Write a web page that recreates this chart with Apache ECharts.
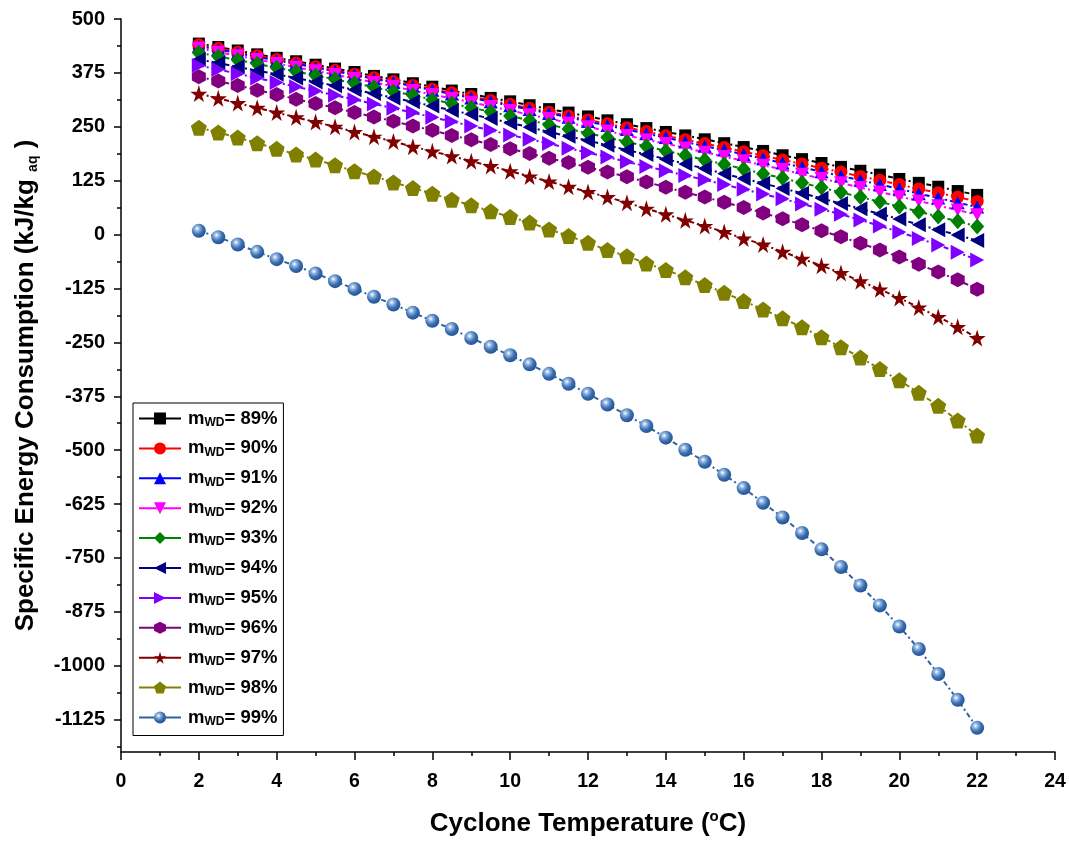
<!DOCTYPE html>
<html>
<head>
<meta charset="utf-8">
<script src="https://cdn.jsdelivr.net/npm/echarts@6/dist/echarts.min.js"></script>
<style>
html, body { margin: 0; padding: 0; background: #fff; }
#chart { width: 1069px; height: 841px; }
</style>
</head>
<body>
<div id="chart"></div>
<script>
// cyclone temperature (°C)
const temps = [2, 2.5, 3, 3.5, 4, 4.5, 5, 5.5, 6, 6.5, 7, 7.5, 8, 8.5, 9, 9.5, 10, 10.5, 11, 11.5, 12,
  12.5, 13, 13.5, 14, 14.5, 15, 15.5, 16, 16.5, 17, 17.5, 18, 18.5, 19, 19.5, 20, 20.5, 21, 21.5, 22];

// specific energy consumption per m_WD
const m89 = [443, 435, 427, 418, 410, 402, 394, 385, 377, 368, 360, 351, 343, 334, 326, 317, 309, 300, 291, 283, 274,
  265, 256, 247, 238, 230, 221, 212, 203, 194, 184, 175, 166, 157, 148, 139, 129, 120, 111, 101, 92];
const m90 = [440, 432, 423, 415, 406, 398, 389, 381, 372, 364, 355, 346, 337, 329, 320, 311, 302, 293, 284, 275, 266,
  257, 248, 239, 229, 220, 211, 202, 192, 183, 173, 164, 154, 145, 135, 126, 116, 106, 97, 87, 77];
const m91 = [437, 429, 421, 412, 404, 396, 387, 379, 370, 361, 353, 344, 335, 326, 317, 308, 299, 290, 281, 272, 262,
  253, 244, 234, 225, 215, 205, 196, 186, 176, 166, 156, 146, 136, 126, 116, 106, 95, 85, 74, 64];
const m92 = [432, 423, 415, 406, 397, 388, 380, 371, 362, 353, 344, 334, 325, 316, 307, 297, 288, 278, 269, 259, 250,
  240, 230, 220, 211, 201, 191, 181, 171, 161, 151, 140, 130, 120, 109, 99, 88, 78, 67, 57, 46];
const m93 = [422, 413, 405, 396, 387, 378, 369, 360, 351, 342, 332, 323, 313, 304, 294, 285, 275, 265, 255, 245, 235,
  225, 215, 205, 194, 184, 173, 163, 152, 141, 131, 120, 109, 98, 87, 76, 65, 53, 42, 31, 19];
const m94 = [406, 398, 389, 380, 372, 363, 354, 345, 336, 327, 317, 308, 298, 288, 279, 269, 259, 249, 238, 228, 218,
  207, 196, 186, 175, 164, 153, 141, 130, 119, 107, 96, 84, 72, 60, 48, 36, 23, 11, -1, -14];
const m95 = [392, 383, 373, 363, 353, 343, 333, 323, 313, 303, 293, 283, 272, 262, 252, 242, 231, 221, 211, 200, 190,
  180, 169, 158, 148, 137, 127, 116, 105, 94, 83, 71, 59, 47, 34, 20, 6, -9, -24, -41, -59];
const m96 = [366, 356, 346, 335, 325, 314, 304, 294, 283, 273, 263, 252, 242, 230, 220, 209, 199, 188, 177, 167, 156,
  145, 134, 122, 110, 98, 87, 75, 63, 50, 37, 23, 9, -5, -20, -36, -52, -69, -87, -105, -127];
const m97 = [327, 316, 305, 294, 283, 272, 261, 250, 238, 227, 216, 204, 193, 182, 170, 159, 147, 135, 123, 111, 99,
  87, 74, 60, 47, 33, 20, 6, -9, -23, -40, -56, -72, -89, -108, -127, -147, -169, -191, -214, -240];
const m98 = [248, 237, 225, 212, 199, 186, 174, 161, 147, 135, 121, 108, 95, 81, 68, 54, 41, 28, 12, -3, -19,
  -36, -50, -67, -82, -99, -117, -135, -154, -174, -194, -215, -238, -261, -285, -312, -338, -367, -397, -431, -466];
const m99 = [9, -6, -23, -40, -57, -73, -90, -108, -126, -144, -162, -181, -200, -219, -240, -260, -280, -301, -323, -346, -369,
  -394, -419, -444, -471, -499, -527, -557, -588, -622, -656, -692, -730, -771, -814, -860, -909, -961, -1019, -1079, -1144];

const labels = ['89%', '90%', '91%', '92%', '93%', '94%', '95%', '96%', '97%', '98%', '99%'];
const values = [m89, m90, m91, m92, m93, m94, m95, m96, m97, m98, m99];

// axis ticks
const yMajor = [-1125, -1000, -875, -750, -625, -500, -375, -250, -125, 0, 125, 250, 375, 500];
const yMinor = [-1187.5, -1062.5, -937.5, -812.5, -687.5, -562.5, -437.5, -312.5, -187.5, -62.5, 62.5, 187.5, 312.5, 437.5];

const hexPath = 'path://M50,0 L93,25 L93,75 L50,100 L7,75 L7,25 Z';
const starPath = 'path://M50,0 L61,35 L98,35 L68,57 L79,91 L50,70 L21,91 L32,57 L2,35 L39,35 Z';
const pentPath = 'path://M50,0 L98,35 L79,91 L21,91 L2,35 Z';
const sphere = {
  type: 'radial', x: 0.38, y: 0.35, r: 0.7,
  colorStops: [
    { offset: 0, color: '#ffffff' },
    { offset: 0.25, color: '#8fb4e0' },
    { offset: 0.6, color: '#3a6db0' },
    { offset: 1, color: '#1f4f8f' }
  ]
};

const looks = [
  { color: '#000000', symbol: 'rect', size: 12 },
  { color: '#ff0000', symbol: 'circle', size: 13 },
  { color: '#0000ff', symbol: 'triangle', size: [14, 13] },
  { color: '#ff00ff', symbol: 'triangle', size: [14, 13], rotate: 180 },
  { color: '#008000', symbol: 'diamond', size: [14, 16] },
  { color: '#000080', symbol: 'triangle', size: [15, 14], rotate: 90 },
  { color: '#8000ff', symbol: 'triangle', size: [15, 14], rotate: -90 },
  { color: '#800080', symbol: hexPath, size: [14, 15] },
  { color: '#800000', symbol: starPath, size: 17 },
  { color: '#808000', symbol: pentPath, size: 16 },
  { color: '#2e63a3', symbol: 'circle', size: 14, fill: sphere }
];

const font = "'Liberation Sans', Arial, sans-serif";

const series = values.map((vals, i) => ({
  name: labels[i],
  type: 'line',
  data: temps.map((t, j) => [t, vals[j]]),
  symbol: looks[i].symbol,
  symbolSize: looks[i].size,
  symbolRotate: looks[i].rotate || 0,
  showAllSymbol: true,
  lineStyle: { color: looks[i].color, width: 2, type: [5, 3, 2, 3] },
  itemStyle: { color: looks[i].fill || looks[i].color, borderWidth: 0 },
  emphasis: { disabled: true }
}));

const chart = echarts.init(document.getElementById('chart'));
chart.setOption({
  animation: false,
  backgroundColor: '#fff',
  textStyle: { fontFamily: font },
  grid: { left: 121, right: 14, top: 19, bottom: 89, outerBoundsMode: 'none' },
  legend: {
    orient: 'vertical',
    left: 133,
    top: 403,
    padding: [6, 6, 8, 5],
    itemGap: 10.4,
    itemWidth: 42,
    itemHeight: 15,
    borderColor: '#000',
    borderWidth: 1,
    backgroundColor: '#fff',
    lineStyle: { type: 'solid', width: 2 },
    data: labels,
    formatter: name => '{f|m}{s|WD}{m|= ' + name + '}',
    textStyle: {
      rich: {
        f: { fontFamily: font, fontWeight: 'bold', fontSize: 18.5, color: '#000', lineHeight: 20, padding: [0, 0, 0, 2] },
        m: { fontFamily: font, fontWeight: 'bold', fontSize: 18.5, color: '#000', lineHeight: 20 },
        s: { fontFamily: font, fontWeight: 'bold', fontSize: 12, color: '#000', lineHeight: 12, verticalAlign: 'bottom', padding: [7, 0, 0, 0] }
      }
    }
  },
  xAxis: {
    type: 'value',
    min: 0,
    max: 24,
    interval: 2,
    name: '{a|Cyclone Temperature (}{s|o}{a|C)}',
    nameLocation: 'middle',
    nameGap: 57,
    nameTextStyle: {
      rich: {
        a: { fontFamily: font, fontWeight: 'bold', fontSize: 26, color: '#000', lineHeight: 30 },
        s: { fontFamily: font, fontWeight: 'bold', fontSize: 15, color: '#000', lineHeight: 30, padding: [0, 0, 14, 0] }
      }
    },
    axisLine: { show: true, onZero: false, lineStyle: { color: '#000', width: 1.5 } },
    axisTick: { show: true, length: 8, lineStyle: { color: '#000', width: 1.5 } },
    minorTick: { show: true, splitNumber: 2, length: 4, lineStyle: { color: '#000', width: 1.5 } },
    axisLabel: { margin: 20, fontFamily: font, fontWeight: 'bold', fontSize: 19.5, color: '#000' },
    splitLine: { show: false }
  },
  yAxis: [
    {
      type: 'value',
      min: -1200,
      max: 500,
      name: '{a|Specific Energy Consumption (kJ/kg }{s|aq}{a| )}',
      nameLocation: 'middle',
      nameRotate: 90,
      nameGap: 80,
      nameTextStyle: {
        rich: {
          a: { fontFamily: font, fontWeight: 'bold', fontSize: 26, color: '#000', lineHeight: 30 },
          s: { fontFamily: font, fontWeight: 'bold', fontSize: 14, color: '#000', lineHeight: 30, padding: [14, 0, 0, 0] }
        }
      },
      axisLine: { show: true, onZero: false, lineStyle: { color: '#000', width: 1.5 } },
      axisTick: { show: true, length: 7, customValues: yMajor, lineStyle: { color: '#000', width: 1.5 } },
      axisLabel: {
        margin: 16, customValues: yMajor, formatter: v => String(v),
        fontFamily: font, fontWeight: 'bold', fontSize: 20, color: '#000'
      },
      splitLine: { show: false }
    },
    {
      type: 'value',
      min: -1200,
      max: 500,
      position: 'left',
      axisLine: { show: false },
      axisTick: { show: true, length: 4, customValues: yMinor, lineStyle: { color: '#000', width: 1.5 } },
      axisLabel: { show: false },
      splitLine: { show: false }
    }
  ],
  series: series
});
</script>
</body>
</html>
